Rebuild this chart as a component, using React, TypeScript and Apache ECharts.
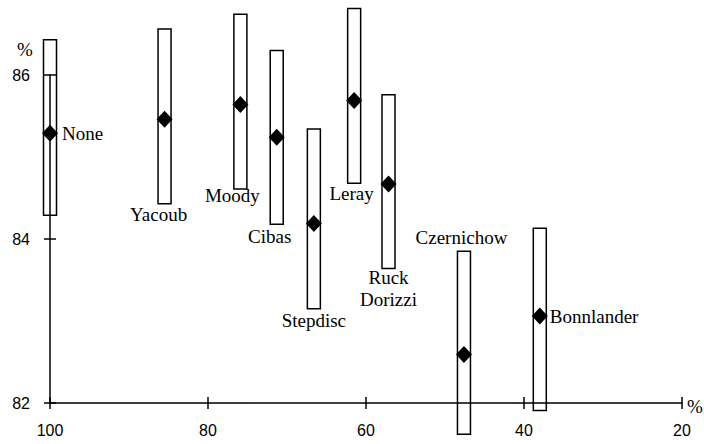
import React, { useEffect, useRef } from "react";
import * as echarts from "echarts";

// Methods compared
const methods = [
  "None",
  "Yacoub",
  "Moody",
  "Cibas",
  "Stepdisc",
  "Leray",
  "Ruck\nDorizzi",
  "Czernichow",
  "Bonnlander",
];
// x: % of variables retained
const retained = [100, 85.5, 75.9, 71.3, 66.6, 61.5, 57.15, 47.6, 38.0];
// y: performance (%)
const performance = [85.29, 85.46, 85.64, 85.24, 84.19, 85.69, 84.67, 82.59, 83.06];
// interval bounds (%)
const lower = [84.29, 84.43, 84.61, 84.18, 83.15, 84.68, 83.64, 81.62, 81.91];
const upper = [86.43, 86.56, 86.74, 86.3, 85.34, 86.81, 85.76, 83.85, 84.13];

const xTicks = { min: 20, max: 100, interval: 20 };
const yTicks = { min: 82, max: 86, interval: 2 };

// label placement (style only)
const labelPlacement = [
  { side: "right", dx: 12, dy: 0 },
  { side: "below", dx: -6, dy: 11 },
  { side: "below", dx: -8, dy: 7 },
  { side: "below", dx: -7, dy: 12.5 },
  { side: "below", dx: 0, dy: 11.5 },
  { side: "below", dx: -2.5, dy: 10.5 },
  { side: "below", dx: 0, dy: 8.5 },
  { side: "above", dx: -2.5, dy: -14 },
  { side: "right", dx: 10, dy: 0 },
];

const SERIF = "'Liberation Serif', 'Times New Roman', serif";
const SANS = "'Liberation Sans', Arial, sans-serif";
const LINE_H = 22;

export default function App() {
  const ref = useRef<HTMLDivElement>(null);

  useEffect(() => {
    if (!ref.current) return;
    const chart = echarts.init(ref.current, null, { renderer: "svg" });

    const boxData = methods.map((_, i) => [retained[i], lower[i], upper[i], performance[i]]);
    const pointData = methods.map((_, i) => [retained[i], performance[i]]);

    const axisColor = "#000";

    const option: any = {
      animation: false,
      backgroundColor: "#fff",
      grid: { left: 50, right: 22, top: 75, bottom: 41, containLabel: false },
      xAxis: [
        {
          type: "value",
          inverse: true,
          min: xTicks.min,
          max: xTicks.max,
          interval: xTicks.interval,
          position: "bottom",
          axisLine: { show: true, onZero: false, lineStyle: { color: axisColor, width: 1.5 } },
          axisTick: { show: true, inside: false, length: 6, lineStyle: { color: axisColor, width: 1.5 } },
          axisLabel: { color: "#000", fontFamily: SANS, fontSize: 16, margin: 19 },
          splitLine: { show: false },
        },
        {
          type: "value",
          inverse: true,
          min: xTicks.min,
          max: xTicks.max,
          interval: xTicks.interval,
          position: "bottom",
          axisLine: { show: false, onZero: false },
          axisTick: { show: true, inside: true, length: 6, lineStyle: { color: axisColor, width: 1.5 } },
          axisLabel: { show: false },
          splitLine: { show: false },
        },
      ],
      yAxis: [
        {
          type: "value",
          min: yTicks.min,
          max: yTicks.max,
          interval: yTicks.interval,
          position: "left",
          axisLine: { show: true, onZero: false, lineStyle: { color: axisColor, width: 1.5 } },
          axisTick: { show: true, inside: false, length: 6, lineStyle: { color: axisColor, width: 1.5 } },
          axisLabel: { color: "#000", fontFamily: SANS, fontSize: 16, margin: 20 },
          splitLine: { show: false },
        },
        {
          type: "value",
          min: yTicks.min,
          max: yTicks.max,
          interval: yTicks.interval,
          position: "left",
          axisLine: { show: false, onZero: false },
          axisTick: { show: true, inside: true, length: 6, lineStyle: { color: axisColor, width: 1.5 } },
          axisLabel: { show: false },
          splitLine: { show: false },
        },
      ],
      graphic: [
        {
          type: "text",
          x: 25,
          y: 49,
          style: { text: "%", font: `19px ${SERIF}`, fill: "#000", textAlign: "center", textVerticalAlign: "middle" },
        },
        {
          type: "text",
          x: 695,
          y: 406,
          style: { text: "%", font: `19px ${SERIF}`, fill: "#000", textAlign: "center", textVerticalAlign: "middle" },
        },
      ],
      series: [
        {
          type: "custom",
          xAxisIndex: 0,
          yAxisIndex: 0,
          clip: false,
          z: 2,
          data: boxData,
          renderItem: (params: any, api: any) => {
            const i = params.dataIndex;
            const x = api.value(0);
            const lo = api.value(1);
            const hi = api.value(2);
            const mid = api.value(3);
            const pTop = api.coord([x, hi]);
            const pBot = api.coord([x, lo]);
            const pMid = api.coord([x, mid]);
            const w = 13;
            const pl = labelPlacement[i];
            let tx = pTop[0] + pl.dx;
            let ty = 0;
            let align = "center";
            let vAlign = "top";
            if (pl.side === "right") {
              tx = pMid[0] + pl.dx;
              ty = pMid[1] + pl.dy;
              align = "left";
              vAlign = "middle";
            } else if (pl.side === "below") {
              ty = pBot[1] + pl.dy - LINE_H / 2;
              vAlign = "top";
            } else {
              ty = pTop[1] + pl.dy + LINE_H / 2;
              vAlign = "bottom";
            }
            return {
              type: "group",
              children: [
                {
                  type: "rect",
                  shape: { x: pTop[0] - w / 2, y: pTop[1], width: w, height: pBot[1] - pTop[1] },
                  style: { fill: "none", stroke: "#000", lineWidth: 1.5 },
                },
                {
                  type: "text",
                  x: tx,
                  y: ty,
                  style: {
                    text: methods[i],
                    font: `19px ${SERIF}`,
                    lineHeight: LINE_H,
                    fill: "#000",
                    textAlign: align,
                    textVerticalAlign: vAlign,
                  },
                },
              ],
            };
          },
        },
        {
          type: "scatter",
          xAxisIndex: 0,
          yAxisIndex: 0,
          z: 3,
          symbol: "diamond",
          symbolSize: [16, 17],
          itemStyle: { color: "#000", opacity: 1 },
          emphasis: { disabled: true },
          data: pointData,
        },
      ],
    };

    chart.setOption(option);
    return () => chart.dispose();
  }, []);

  return (
    <div
      ref={ref}
      style={{ position: "fixed", left: 0, top: 0, width: 704, height: 444, background: "#fff" }}
    />
  );
}
